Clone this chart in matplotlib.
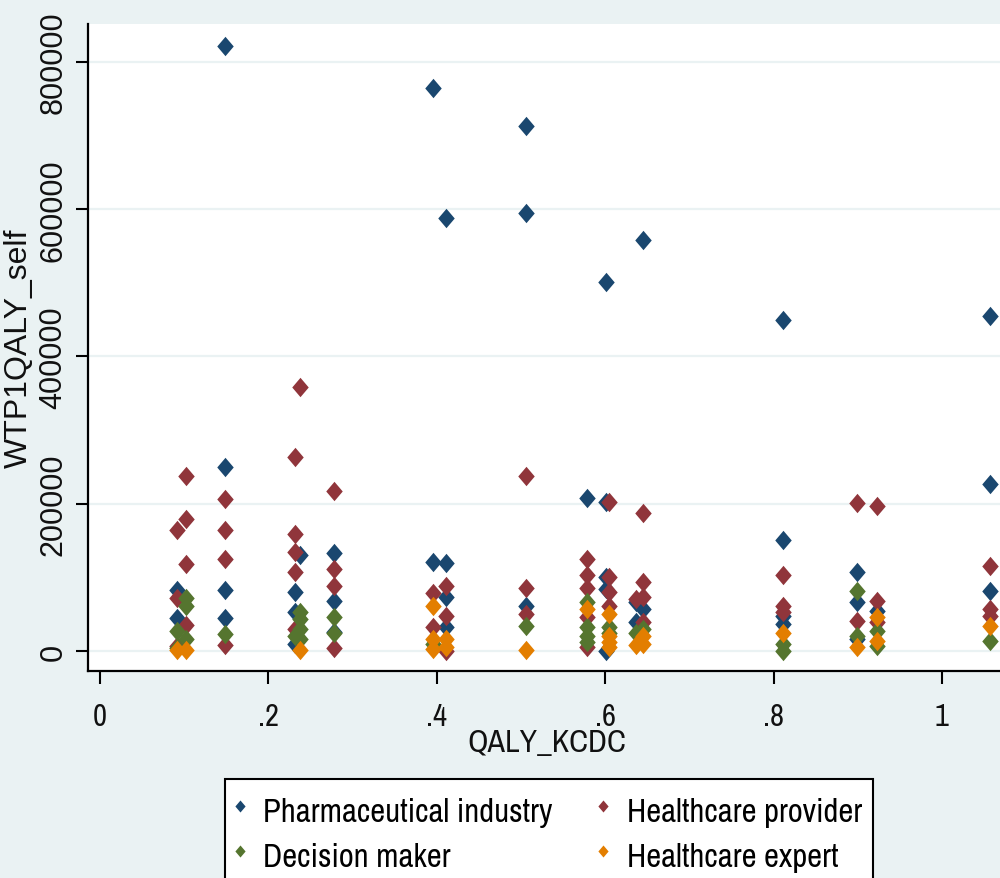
import numpy as np
import matplotlib.pyplot as plt
from matplotlib.path import Path

# ---------------------------------------------------------------------------
# data (x = QALY_KCDC, y = WTP1QALY_self)
pharma_x = [0.092, 0.092,
            0.149, 0.149, 0.149, 0.149,
            0.232, 0.232, 0.232, 0.237,
            0.278, 0.278, 0.278,
            0.395, 0.395,
            0.411, 0.411, 0.411, 0.411,
            0.506, 0.506, 0.506,
            0.578,
            0.601, 0.601, 0.601, 0.601, 0.601,
            0.637, 0.645, 0.645, 0.637,
            0.811, 0.811, 0.811, 0.811,
            0.899, 0.899, 0.899, 0.923,
            1.057, 1.057, 1.057]
pharma_y = [83000, 45000,
            822000, 250000, 83000, 45000,
            80000, 53000, 9000, 130000,
            133000, 68000, 26000,
            765000, 121000,
            588000, 120000, 73000, 33000,
            713000, 595000, 61000,
            208000,
            501000, 202000, 100000, 84000, 0,
            66000, 558000, 57000, 40000,
            449000, 151000, 48000, 37000,
            107000, 67000, 16000, 54000,
            455000, 227000, 82000]

provider_x = [0.092, 0.092, 0.092,
              0.102, 0.102, 0.102, 0.102,
              0.149, 0.149, 0.149, 0.149,
              0.232, 0.232, 0.232, 0.232, 0.232, 0.237,
              0.278, 0.278, 0.278, 0.278,
              0.395, 0.395,
              0.411, 0.411, 0.411,
              0.506, 0.506, 0.506,
              0.578, 0.578, 0.578, 0.578, 0.578,
              0.604, 0.604, 0.604, 0.604,
              0.645, 0.645, 0.645, 0.645, 0.637,
              0.811, 0.811, 0.811,
              0.899, 0.899,
              0.923, 0.923, 0.923,
              1.057, 1.057, 1.057]
provider_y = [165000, 72000, 7000,
              238000, 179000, 118000, 35000,
              206000, 165000, 125000, 8000,
              264000, 159000, 134000, 107000, 30000, 358000,
              217000, 111000, 88000, 4000,
              79000, 33000,
              88000, 48000, 0,
              238000, 85000, 50000,
              125000, 103000, 85000, 46000, 5000,
              202000, 100000, 80000, 61000,
              187000, 94000, 73000, 39000, 70000,
              103000, 61000, 53000,
              201000, 41000,
              197000, 68000, 39000,
              115000, 57000, 48000]

decision_x = [0.092, 0.092,
              0.102, 0.102, 0.102,
              0.149,
              0.237, 0.237, 0.237, 0.237, 0.232,
              0.278, 0.278,
              0.395,
              0.506,
              0.578, 0.578, 0.578, 0.578,
              0.604, 0.604,
              0.645, 0.637,
              0.811, 0.811,
              0.899, 0.899,
              0.923, 0.923,
              1.057]
decision_y = [27000, 4000,
              72000, 61000, 16000,
              23000,
              53000, 43000, 30000, 16000, 20000,
              46000, 25000,
              10000,
              34000,
              66000, 33000, 20000, 12000,
              33000, 25000,
              30000, 25000,
              10000, 0,
              82000, 20000,
              27000, 7000,
              14000]

expert_x = [0.092, 0.102,
            0.237,
            0.395, 0.395, 0.395,
            0.411, 0.411,
            0.506,
            0.578,
            0.604, 0.604, 0.604, 0.604,
            0.645, 0.645, 0.637,
            0.811,
            0.899,
            0.923, 0.923,
            1.057]
expert_y = [1000, 1000,
            1000,
            61000, 16000, 3000,
            16000, 5000,
            1000,
            57000,
            50000, 20000, 12000, 5000,
            20000, 10000, 8000,
            24000,
            5000,
            46000, 14000,
            34000]

group_labels = ['Pharmaceutical industry', 'Healthcare provider',
                'Decision maker', 'Healthcare expert']
x_ticks = [0, 0.2, 0.4, 0.6, 0.8, 1.0]
x_tick_labels = ['0', '.2', '.4', '.6', '.8', '1']
y_ticks = [0, 200000, 400000, 600000, 800000]
y_tick_labels = ['0', '200000', '400000', '600000', '800000']

# ---------------------------------------------------------------------------
BG = '#EAF2F3'
COLORS = ['#1A476F', '#90353B', '#55752F', '#E37E00']
NARROW = ['Archivo Narrow', 'Liberation Sans', 'DejaVu Sans']
WIDE = ['Liberation Sans', 'DejaVu Sans']

# tall diamond (stata marker, picture is stretched vertically)
diamond = Path([(0, 1), (0.85, 0), (0, -1), (-0.85, 0), (0, 1)],
               [Path.MOVETO, Path.LINETO, Path.LINETO, Path.LINETO, Path.CLOSEPOLY])

fig = plt.figure(figsize=(10.0, 8.79), dpi=100, facecolor=BG)
ax = fig.add_axes([0.088, 1 - 672 / 879, 0.912, (672 - 25) / 879])
ax.set_facecolor('white')

series = [(pharma_x, pharma_y), (provider_x, provider_y),
          (decision_x, decision_y), (expert_x, expert_y)]
handles = []
for (xs, ys), col, lab in zip(series, COLORS, group_labels):
    h = ax.scatter(xs, ys, marker=diamond, s=195, color=col, linewidths=0,
                   label=lab, zorder=3)
    handles.append(h)

ax.set_xlim(-0.01425, 1.0689)
ax.set_ylim(-27160, 851600)

ax.set_xticks(x_ticks)
ax.set_xticklabels(x_tick_labels, family=NARROW, fontsize=22)
ax.set_yticks(y_ticks)
ax.set_yticklabels(y_tick_labels, family=WIDE, fontsize=22,
                   rotation=90, va='center')

ax.grid(axis='y', color=BG, linewidth=1.6, zorder=0)
ax.grid(axis='x', visible=False)
ax.tick_params(axis='both', direction='out', length=9, width=1.5,
               color='black', labelcolor='#111111')
ax.tick_params(axis='x', pad=13)
ax.tick_params(axis='y', pad=5)

for side in ['top', 'right']:
    ax.spines[side].set_visible(False)
for side in ['left', 'bottom']:
    ax.spines[side].set_linewidth(1.6)
    ax.spines[side].set_color('black')

ax.set_xlabel('QALY_KCDC', family=NARROW, fontsize=23, color='#111111')
ax.set_ylabel('WTP1QALY_self', family=WIDE, fontsize=23, color='#111111')
ax.xaxis.set_label_coords(0.503, -0.088)
ax.yaxis.set_label_coords(-0.059, 0.5)

# stata fills the legend row by row
order = [0, 2, 1, 3]
leg = fig.legend([handles[i] for i in order], [group_labels[i] for i in order],
                 loc='upper left', bbox_to_anchor=(0.225, 1 - 780 / 879),
                 borderaxespad=0, ncol=2, frameon=True, fancybox=False,
                 edgecolor='black', facecolor='white', framealpha=1,
                 markerscale=0.62, handletextpad=0.6, handlelength=0.22,
                 handleheight=1.5, columnspacing=1.45, borderpad=0.35,
                 labelspacing=0.15,
                 prop={'family': NARROW, 'size': 23.5})
leg.get_frame().set_linewidth(1.5)

fig.savefig('out.png', dpi=100, facecolor=BG)
